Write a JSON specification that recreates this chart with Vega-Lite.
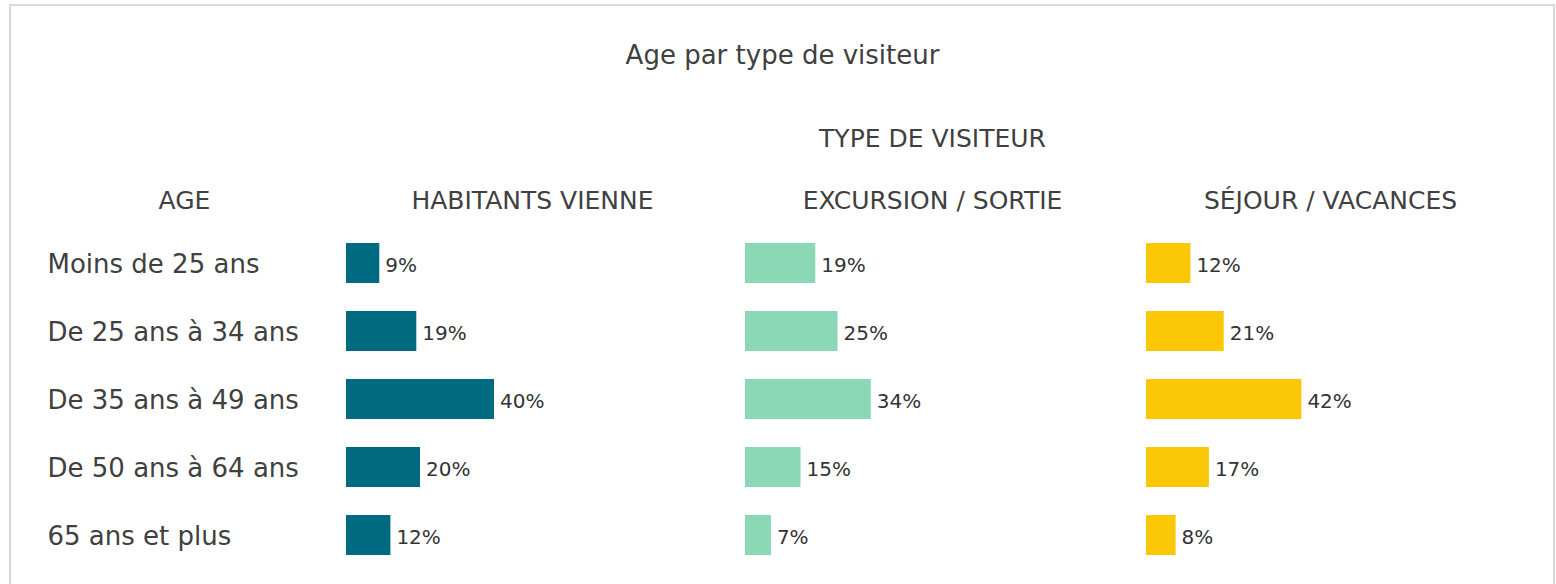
{
  "$schema": "https://vega.github.io/schema/vega-lite/v6.json",
  "width": 1556,
  "height": 584,
  "autosize": {"type": "fit", "contains": "padding"},
  "padding": {"left": 10, "top": 5, "right": 2, "bottom": -4},
  "background": "white",
  "config": {
    "view": {"stroke": "#d9d9d9", "strokeWidth": 2},
    "axis": {
      "grid": false, "domain": false, "ticks": false, "tickSize": 0,
      "minExtent": 0, "maxExtent": 0,
      "labelFont": "DejaVu Sans", "titleFont": "DejaVu Sans",
      "titleFontWeight": "normal", "titleColor": "#404040", "labelColor": "#404040",
      "titleAngle": 0, "titleAlign": "center", "titleBaseline": "middle",
      "titleFontSize": 25, "titleLimit": 0, "labelLimit": 0
    }
  },
  "data": {
    "values": [
      {"type": "HABITANTS VIENNE", "age": "Moins de 25 ans", "value": 0.09},
      {"type": "HABITANTS VIENNE", "age": "De 25 ans à 34 ans", "value": 0.19},
      {"type": "HABITANTS VIENNE", "age": "De 35 ans à 49 ans", "value": 0.40},
      {"type": "HABITANTS VIENNE", "age": "De 50 ans à 64 ans", "value": 0.20},
      {"type": "HABITANTS VIENNE", "age": "65 ans et plus", "value": 0.12},
      {"type": "EXCURSION / SORTIE", "age": "Moins de 25 ans", "value": 0.19},
      {"type": "EXCURSION / SORTIE", "age": "De 25 ans à 34 ans", "value": 0.25},
      {"type": "EXCURSION / SORTIE", "age": "De 35 ans à 49 ans", "value": 0.34},
      {"type": "EXCURSION / SORTIE", "age": "De 50 ans à 64 ans", "value": 0.15},
      {"type": "EXCURSION / SORTIE", "age": "65 ans et plus", "value": 0.07},
      {"type": "SÉJOUR / VACANCES", "age": "Moins de 25 ans", "value": 0.12},
      {"type": "SÉJOUR / VACANCES", "age": "De 25 ans à 34 ans", "value": 0.21},
      {"type": "SÉJOUR / VACANCES", "age": "De 35 ans à 49 ans", "value": 0.42},
      {"type": "SÉJOUR / VACANCES", "age": "De 50 ans à 64 ans", "value": 0.17},
      {"type": "SÉJOUR / VACANCES", "age": "65 ans et plus", "value": 0.08}
    ]
  },
  "layer": [
    {
      "transform": [{"filter": "datum.type === 'HABITANTS VIENNE'"}],
      "encoding": {
        "y": {
          "field": "age", "type": "nominal",
          "sort": ["Moins de 25 ans", "De 25 ans à 34 ans", "De 35 ans à 49 ans", "De 50 ans à 64 ans", "65 ans et plus"],
          "scale": {"domain": ["Moins de 25 ans", "De 25 ans à 34 ans", "De 35 ans à 49 ans", "De 50 ans à 64 ans", "65 ans et plus"], "range": [224, 564], "paddingInner": 0.41, "paddingOuter": 0.205},
          "axis": {"orient": "left", "title": "AGE", "titleX": 174, "titleY": 195, "labelFontSize": 26, "labelAlign": "left", "labelBaseline": "middle", "labelPadding": -37, "labelOffset": 2}
        },
        "x": {
          "field": "value", "type": "quantitative",
          "scale": {"domain": [0, 1], "range": [336, 706]},
          "axis": {"orient": "top", "labels": false, "title": "HABITANTS VIENNE", "titleX": 522, "titleY": 195}
        }
      },
      "layer": [
        {"mark": {"type": "bar", "color": "#006A80"}},
        {"mark": {"type": "text", "align": "left", "baseline": "middle", "dx": 6, "dy": 3, "fontSize": 20, "font": "DejaVu Sans", "color": "#333333"},
         "encoding": {"text": {"field": "value", "type": "quantitative", "format": ".0%"}}}
      ]
    },
    {
      "transform": [{"filter": "datum.type === 'EXCURSION / SORTIE'"}],
      "encoding": {
        "y": {
          "field": "age", "type": "nominal",
          "sort": ["Moins de 25 ans", "De 25 ans à 34 ans", "De 35 ans à 49 ans", "De 50 ans à 64 ans", "65 ans et plus"],
          "scale": {"domain": ["Moins de 25 ans", "De 25 ans à 34 ans", "De 35 ans à 49 ans", "De 50 ans à 64 ans", "65 ans et plus"], "range": [224, 564], "paddingInner": 0.41, "paddingOuter": 0.205},
          "axis": {"orient": "left", "labels": false, "title": "Age par type de visiteur", "titleX": 772, "titleY": 50, "titleFontSize": 26}
        },
        "x": {
          "field": "value", "type": "quantitative",
          "scale": {"domain": [0, 1], "range": [735, 1105]},
          "axis": {"orient": "top", "labels": false, "title": "EXCURSION / SORTIE", "titleX": 922, "titleY": 195}
        }
      },
      "layer": [
        {"mark": {"type": "bar", "color": "#8AD8B6"}},
        {"mark": {"type": "text", "align": "left", "baseline": "middle", "dx": 6, "dy": 3, "fontSize": 20, "font": "DejaVu Sans", "color": "#333333"},
         "encoding": {"text": {"field": "value", "type": "quantitative", "format": ".0%"}}}
      ]
    },
    {
      "transform": [{"filter": "datum.type === 'SÉJOUR / VACANCES'"}],
      "encoding": {
        "y": {
          "field": "age", "type": "nominal",
          "sort": ["Moins de 25 ans", "De 25 ans à 34 ans", "De 35 ans à 49 ans", "De 50 ans à 64 ans", "65 ans et plus"],
          "scale": {"domain": ["Moins de 25 ans", "De 25 ans à 34 ans", "De 35 ans à 49 ans", "De 50 ans à 64 ans", "65 ans et plus"], "range": [224, 564], "paddingInner": 0.41, "paddingOuter": 0.205},
          "axis": {"orient": "left", "labels": false, "title": "TYPE DE VISITEUR", "titleX": 922, "titleY": 133}
        },
        "x": {
          "field": "value", "type": "quantitative",
          "scale": {"domain": [0, 1], "range": [1136, 1506]},
          "axis": {"orient": "top", "labels": false, "title": "SÉJOUR / VACANCES", "titleX": 1320, "titleY": 195}
        }
      },
      "layer": [
        {"mark": {"type": "bar", "color": "#FCC707"}},
        {"mark": {"type": "text", "align": "left", "baseline": "middle", "dx": 6, "dy": 3, "fontSize": 20, "font": "DejaVu Sans", "color": "#333333"},
         "encoding": {"text": {"field": "value", "type": "quantitative", "format": ".0%"}}}
      ]
    }
  ],
  "resolve": {
    "scale": {"x": "independent", "y": "independent"},
    "axis": {"x": "independent", "y": "independent"}
  }
}
